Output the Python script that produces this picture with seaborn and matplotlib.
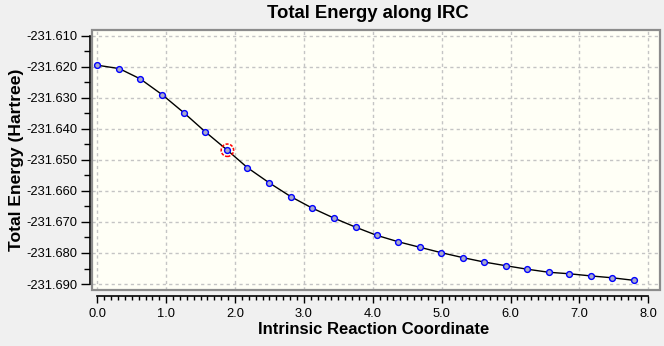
import numpy as np
import pandas as pd
import matplotlib
matplotlib.use("Agg")
import matplotlib.pyplot as plt
from matplotlib.ticker import FixedLocator, FormatStrFormatter
import seaborn as sns

# ---- data ----
irc = [0.000, 0.319, 0.623, 0.942, 1.256, 1.565, 1.889, 2.179, 2.496, 2.814,
       3.117, 3.440, 3.752, 4.055, 4.372, 4.690, 4.993, 5.310, 5.613, 5.931,
       6.234, 6.551, 6.855, 7.172, 7.480, 7.786]
energy = [-231.6195, -231.6206, -231.6239, -231.6290, -231.6348, -231.6409,
          -231.6469, -231.6525, -231.6574, -231.6619, -231.6655, -231.6688,
          -231.6717, -231.6743, -231.6764, -231.6782, -231.6799, -231.6815,
          -231.6829, -231.6841, -231.6852, -231.6862, -231.6867, -231.6874,
          -231.6880, -231.6888]
current_index = 6
x_major = [0.0, 1.0, 2.0, 3.0, 4.0, 5.0, 6.0, 7.0, 8.0]
y_major = [-231.690, -231.680, -231.670, -231.660, -231.650,
           -231.640, -231.630, -231.620, -231.610]

title = "Total Energy along IRC"
xlabel = "Intrinsic Reaction Coordinate"
ylabel = "Total Energy (Hartree)"

df = pd.DataFrame({"irc": irc, "energy": energy})

sns.set_style("white")
plt.rcParams["font.family"] = ["Liberation Sans", "DejaVu Sans"]
plt.rcParams["text.color"] = "black"
plt.rcParams["axes.labelcolor"] = "black"
plt.rcParams["xtick.color"] = "black"
plt.rcParams["ytick.color"] = "black"
plt.rcParams["xtick.labelcolor"] = "black"
plt.rcParams["ytick.labelcolor"] = "black"

fig = plt.figure(figsize=(6.64, 3.46), dpi=100, facecolor="#f0f0f0")
ax = fig.add_axes([0.139, 0.1618, 0.855, 0.7506])
ax.set_facecolor("#fffff6")

sns.lineplot(data=df, x="irc", y="energy", ax=ax, color="black", linewidth=1.0,
             marker="o", markersize=4.2, markerfacecolor="#a9aacb",
             markeredgecolor="#0000ff", markeredgewidth=1.0, zorder=3)

# current point highlight
ax.scatter([irc[current_index]], [energy[current_index]], s=80,
           facecolors="none", edgecolors="#ff0000", linewidths=1.1,
           linestyles=(0, (2, 1)), zorder=4)

ax.set_xlim(-0.0726, 8.17)
ax.set_ylim(-231.69193, -231.60826)

ax.xaxis.set_major_locator(FixedLocator(x_major))
ax.yaxis.set_major_locator(FixedLocator(y_major))
ax.xaxis.set_minor_locator(FixedLocator(np.arange(0, 80.5, 1) / 10.0))
ax.yaxis.set_minor_locator(FixedLocator(np.arange(-231.690, -231.6099, 0.005)))
ax.xaxis.set_major_formatter(FormatStrFormatter("%.1f"))
ax.yaxis.set_major_formatter(FormatStrFormatter("%.3f"))

ax.grid(True, which="major", color="#c4c4c4", linestyle=(0, (2.3, 2.3)), linewidth=1.0)

for s in ["top", "right"]:
    ax.spines[s].set_visible(False)
ax.spines["left"].set_position(("outward", 2.0))
ax.spines["bottom"].set_position(("outward", 4.0))
ax.spines["left"].set_bounds(-231.690, -231.610)
ax.spines["bottom"].set_bounds(0.0, 8.0)
for s in ["left", "bottom"]:
    ax.spines[s].set_color("black")
    ax.spines[s].set_linewidth(1.2)

# frame of the plot area
frame = plt.Rectangle((0, 0), 1, 1, transform=ax.transAxes, fill=False,
                      edgecolor="#8c8c8c", linewidth=1.6, clip_on=False, zorder=5)
ax.add_patch(frame)

ax.tick_params(axis="y", which="major", direction="out", length=6.5, width=1.0,
               color="black", labelcolor="black", labelsize=9.3, pad=2, left=True)
ax.tick_params(axis="y", which="minor", direction="out", length=4.5, width=1.0,
               color="black", left=True)
ax.tick_params(axis="x", which="major", direction="out", length=5, width=1.0,
               color="black", labelcolor="black", labelsize=9.3, pad=4, bottom=True)
ax.tick_params(axis="x", which="minor", direction="out", length=3, width=1.0,
               color="black", bottom=True)

ax.set_title(title, fontsize=13.3, fontweight="bold", pad=9, x=0.485, color="black")
ax.set_xlabel(xlabel, fontsize=12, fontweight="bold", color="black")
ax.set_ylabel(ylabel, fontsize=12.6, fontweight="bold", color="black")
ax.xaxis.set_label_coords(0.495, -0.125)
ax.yaxis.set_label_coords(-0.12, 0.5)

fig.savefig("out.png", dpi=100, facecolor=fig.get_facecolor())
